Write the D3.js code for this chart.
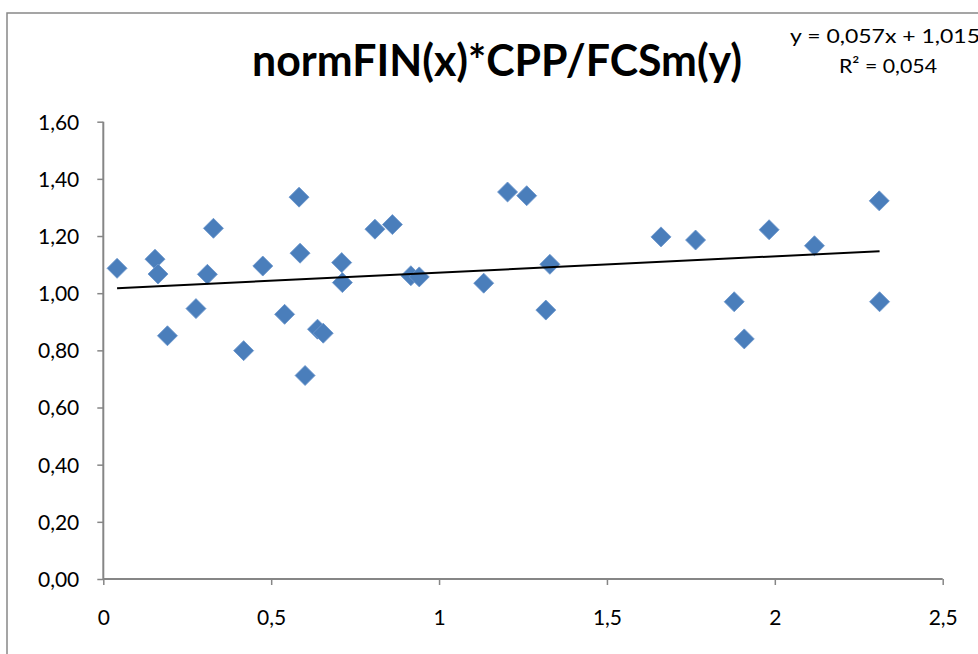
<!DOCTYPE html>
<html lang="da">
<head>
<meta charset="UTF-8" />
<title>normFIN(x)*CPP/FCSm(y)</title>
<script src="https://d3js.org/d3.v7.min.js"></script>
<style>
  body { margin: 0; background: #fff; overflow: hidden; }
  svg text { font-family: Lato, 'Open Sans', sans-serif; fill: #000; }
</style>
</head>
<body>
<svg width="978" height="654"></svg>
<script>
// data
const xVals = [0.041, 0.154, 0.163, 0.191, 0.276, 0.31, 0.328, 0.418, 0.475, 0.54,
  0.583, 0.586, 0.601, 0.638, 0.655, 0.71, 0.712, 0.809, 0.861, 0.916, 0.941,
  1.133, 1.204, 1.261, 1.33, 1.318, 1.661, 1.764, 1.879, 1.909, 1.983, 2.118, 2.311, 2.312];
const yVals = [1.087, 1.119, 1.067, 0.851, 0.946, 1.066, 1.227, 0.799, 1.095, 0.926,
  1.336, 1.140, 0.712, 0.874, 0.860, 1.107, 1.037, 1.224, 1.240, 1.061, 1.057,
  1.035, 1.354, 1.341, 1.101, 0.941, 1.197, 1.186, 0.970, 0.840, 1.222, 1.166, 1.323, 0.970];
const xTicks = [0, 0.5, 1, 1.5, 2, 2.5];
const yTicks = [0, 0.2, 0.4, 0.6, 0.8, 1.0, 1.2, 1.4, 1.6];
const slope = 0.057, intercept = 1.015;
const titleText = "normFIN(x)*CPP/FCSm(y)";
const eqText = "y = 0,057x + 1,015";
const r2Text = "R² = 0,054";

const points = xVals.map((x, i) => ({ x: x, y: yVals[i] }));
const svg = d3.select("svg");
const comma = d => String(d).replace(".", ",");

const x = d3.scaleLinear().domain([0, 2.5]).range([103.3, 942.7]);
const y = d3.scaleLinear().domain([0, 1.6]).range([579, 121.7]);

// chart frame (runs past the window on right and bottom)
svg.append("rect")
  .attr("x", 7).attr("y", 13).attr("width", 1000).attr("height", 700)
  .attr("fill", "none").attr("stroke", "#888").attr("stroke-width", 1.5);

svg.append("text")
  .attr("x", 252).attr("y", 76)
  .attr("textLength", 490).attr("lengthAdjust", "spacingAndGlyphs")
  .style("font-size", "43px").style("font-weight", "bold")
  .text(titleText);

svg.append("text")
  .attr("x", 790).attr("y", 43)
  .attr("textLength", 190).attr("lengthAdjust", "spacingAndGlyphs")
  .style("font-size", "20px")
  .text(eqText);
svg.append("text")
  .attr("x", 888).attr("y", 73).attr("text-anchor", "middle")
  .attr("textLength", 98).attr("lengthAdjust", "spacingAndGlyphs")
  .style("font-size", "20px")
  .text(r2Text);

const xAxis = svg.append("g")
  .attr("transform", "translate(0,579)")
  .call(d3.axisBottom(x).tickValues(xTicks).tickSize(6).tickPadding(25)
    .tickFormat(comma));
const yAxis = svg.append("g")
  .attr("transform", "translate(103.3,0)")
  .call(d3.axisLeft(y).tickValues(yTicks).tickSize(6).tickPadding(18)
    .tickFormat(d => d3.format(".2f")(d).replace(".", ",")));

[xAxis, yAxis].forEach(g => {
  g.select(".domain").attr("stroke", "#868686").attr("stroke-width", 2);
  g.selectAll(".tick line").attr("stroke", "#868686").attr("stroke-width", 1.5);
  g.selectAll(".tick text").style("font-size", "21px").attr("fill", "#000")
    .style("font-family", "Lato, 'Open Sans', sans-serif");
});
xAxis.select(".domain").attr("d", "M103.3,0H942.7");
yAxis.select(".domain").attr("d", "M0,121.7V579");
yAxis.selectAll(".tick text").attr("dy", "0.35em");

// diamonds
svg.append("g").selectAll("path")
  .data(points)
  .enter()
  .append("path")
  .attr("d", d3.symbol().type(d3.symbolSquare).size(200))
  .attr("transform", d => `translate(${x(d.x)},${y(d.y)}) rotate(45)`)
  .attr("fill", "#4a7ebb")
  .attr("stroke", "#6b96cc")
  .attr("stroke-width", 0.8);

// linear trend line across data extent
const ext = d3.extent(xVals);
svg.append("line")
  .attr("x1", x(ext[0])).attr("y1", y(slope * ext[0] + intercept))
  .attr("x2", x(ext[1])).attr("y2", y(slope * ext[1] + intercept))
  .attr("stroke", "#000").attr("stroke-width", 2);
</script>
</body>
</html>
